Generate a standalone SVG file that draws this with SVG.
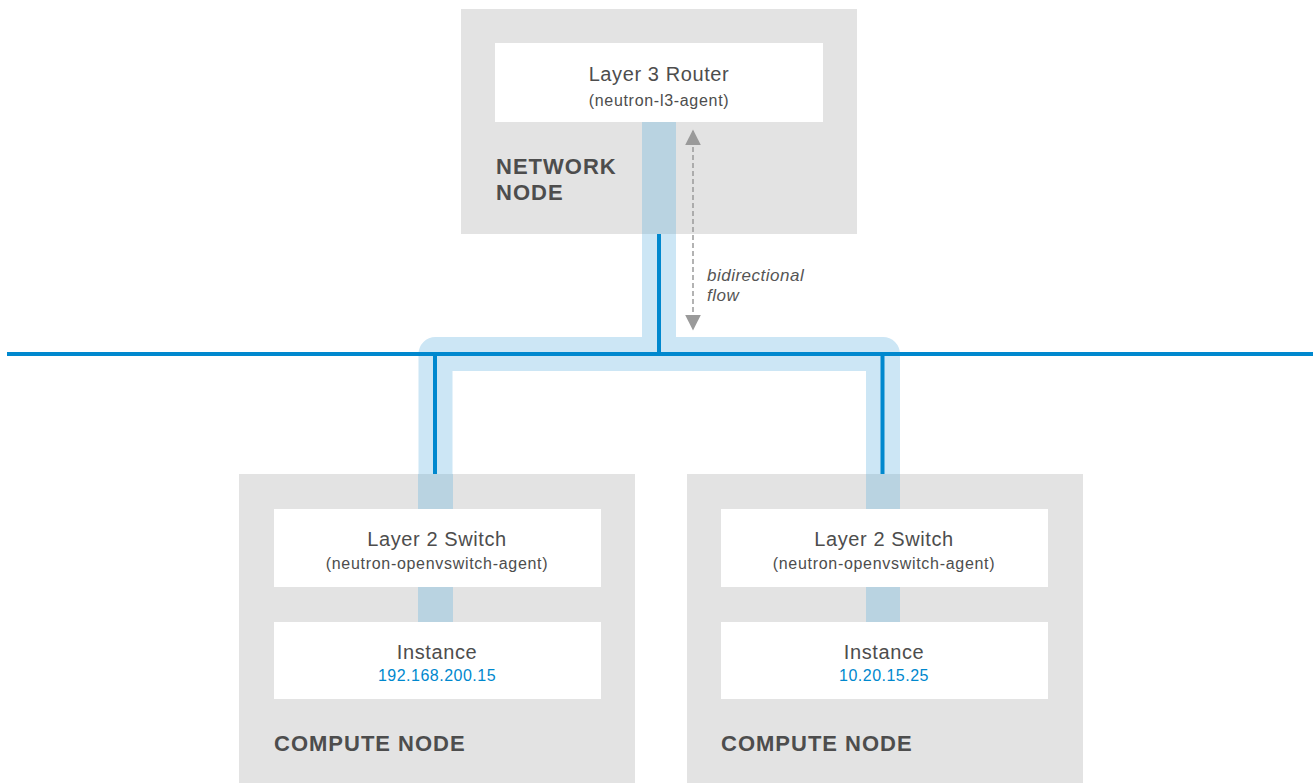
<svg xmlns="http://www.w3.org/2000/svg" width="1313" height="783" viewBox="0 0 1313 783">
<defs>
<style>
.node{fill:#e3e3e3}
.box{fill:#ffffff}
.t1{font-family:"Liberation Sans",Arial,sans-serif;font-size:20px;fill:#4d4d4d;text-anchor:middle;letter-spacing:0.6px}
.t2{font-family:"Liberation Sans",Arial,sans-serif;font-size:16px;fill:#4d4d4d;text-anchor:middle;letter-spacing:0.7px}
.ip{font-family:"Liberation Sans",Arial,sans-serif;font-size:16px;fill:#0088ce;text-anchor:middle;letter-spacing:0.5px}
.hd{font-family:"Liberation Sans",Arial,sans-serif;font-size:22px;font-weight:bold;fill:#4d4d4d;letter-spacing:1px}
.lbl{font-family:"Liberation Sans",Arial,sans-serif;font-size:17px;font-style:italic;fill:#555555;letter-spacing:0.5px}
.band{fill:none;stroke:#cce6f5;stroke-width:34;stroke-linejoin:round}
.bandd{fill:#b9d3e1}
.wire{fill:none;stroke:#0088ce;stroke-width:4}
.flow{fill:none;stroke:#9a9a9a;stroke-width:1.5;stroke-dasharray:5,3}
</style>
<marker id="ah" viewBox="0 0 10 10" refX="9" refY="5" markerWidth="16" markerHeight="16" markerUnits="userSpaceOnUse" orient="auto-start-reverse">
<path d="M0,0 L10,5 L0,10 z" fill="#9a9a9a"/>
</marker>
</defs>
<g id="network-node">
<rect class="node" x="461" y="9" width="396" height="225"/>
<rect class="box" x="495" y="43" width="328" height="79"/>
<text class="t1" x="659" y="81">Layer 3 Router</text>
<text class="t2" x="659" y="106">(neutron-l3-agent)</text>
<text class="hd" x="496" y="174">NETWORK</text>
<text class="hd" x="496" y="200">NODE</text>
</g>
<g id="compute-node-1">
<rect class="node" x="239" y="474" width="396" height="309"/>
<rect class="box" x="274" y="509" width="327" height="78"/>
<text class="t1" x="437" y="546">Layer 2 Switch</text>
<text class="t2" x="437" y="569">(neutron-openvswitch-agent)</text>
<rect class="box" x="274" y="622" width="327" height="77"/>
<text class="t1" x="437" y="659">Instance</text>
<text class="ip" x="437" y="681">192.168.200.15</text>
<text class="hd" x="274" y="751">COMPUTE NODE</text>
</g>
<g id="compute-node-2">
<rect class="node" x="687" y="474" width="396" height="309"/>
<rect class="box" x="721" y="509" width="327" height="78"/>
<text class="t1" x="884" y="546">Layer 2 Switch</text>
<text class="t2" x="884" y="569">(neutron-openvswitch-agent)</text>
<rect class="box" x="721" y="622" width="327" height="77"/>
<text class="t1" x="884" y="659">Instance</text>
<text class="ip" x="884" y="681">10.20.15.25</text>
<text class="hd" x="721" y="751">COMPUTE NODE</text>
</g>
<g id="connectors">
<rect class="bandd" x="642" y="122" width="34" height="112"/>
<path class="band" d="M659,234 V354"/>
<path class="band" d="M435.5,474 V354 H883 V474"/>
<rect class="bandd" x="418" y="474" width="35" height="35"/>
<rect class="bandd" x="418" y="587" width="35" height="35"/>
<rect class="bandd" x="866" y="474" width="34" height="35"/>
<rect class="bandd" x="866" y="587" width="34" height="35"/>
<path class="wire" d="M7,354 H1313"/>
<path class="wire" d="M659,234 V354"/>
<path class="wire" d="M435,354 V474"/>
<path class="wire" d="M882.5,354 V474"/>
<path class="flow" d="M693,131 V329" marker-start="url(#ah)" marker-end="url(#ah)"/>
<text class="lbl" x="707" y="281">bidirectional</text>
<text class="lbl" x="707" y="301">flow</text>
</g>
</svg>
